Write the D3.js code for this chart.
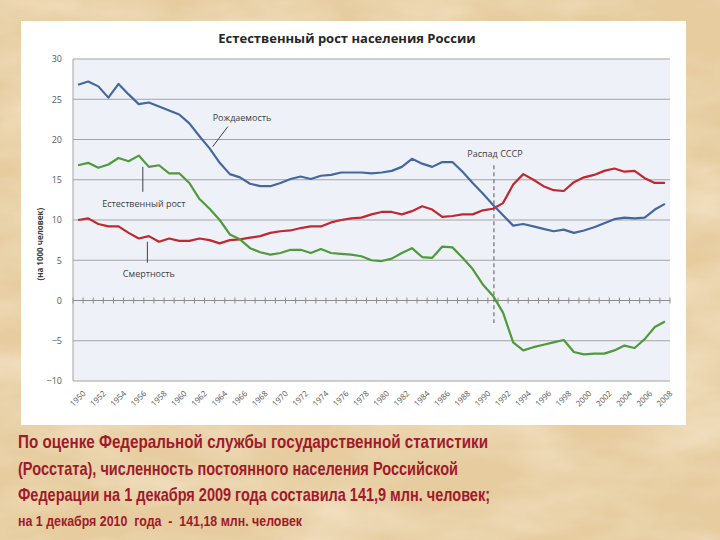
<!DOCTYPE html>
<html>
<head>
<meta charset="utf-8">
<script src="https://cdn.jsdelivr.net/npm/d3@7"></script>
<style>
  body { margin: 0; background: #e8cfa3; }
  svg { display: block; }
</style>
</head>
<body>
<div id="chart"></div>
<script>

// Size of the picture and of the plot area
const width = 720;
const height = 540;
const plot = {left: 73, right: 670, top: 59, bottom: 381};

// Data (per 1000 people)
const years = [1950,1951,1952,1953,1954,1955,1956,1957,1958,1959,
               1960,1961,1962,1963,1964,1965,1966,1967,1968,1969,
               1970,1971,1972,1973,1974,1975,1976,1977,1978,1979,
               1980,1981,1982,1983,1984,1985,1986,1987,1988,1989,
               1990,1991,1992,1993,1994,1995,1996,1997,1998,1999,
               2000,2001,2002,2003,2004,2005,2006,2007,2008];

// Рождаемость
const birth = [26.8,27.2,26.6,25.2,26.9,25.6,24.4,24.6,24.1,23.6,
               23.1,22.0,20.4,18.9,17.1,15.7,15.3,14.5,14.2,14.2,
               14.6,15.1,15.4,15.1,15.5,15.6,15.9,15.9,15.9,15.8,
               15.9,16.1,16.6,17.6,17.0,16.6,17.2,17.2,16.0,14.6,
               13.3,11.9,10.6,9.3,9.5,9.2,8.9,8.6,8.8,8.4,
               8.7,9.1,9.6,10.1,10.3,10.2,10.3,11.3,12.0];

// Смертность
const death = [10.0,10.2,9.5,9.2,9.2,8.4,7.7,8.0,7.3,7.7,
               7.4,7.4,7.7,7.5,7.1,7.5,7.6,7.8,8.0,8.4,
               8.6,8.7,9.0,9.2,9.2,9.7,10.0,10.2,10.3,10.7,
               11.0,11.0,10.7,11.1,11.7,11.3,10.4,10.5,10.7,10.7,
               11.2,11.4,12.1,14.4,15.7,15.0,14.2,13.7,13.6,14.7,
               15.3,15.6,16.1,16.4,16.0,16.1,15.2,14.6,14.6];

// Естественный рост
const growth = [16.8,17.1,16.5,16.9,17.7,17.3,18.0,16.6,16.8,15.8,
                15.8,14.6,12.6,11.4,10.0,8.2,7.6,6.5,6.0,5.7,
                5.9,6.3,6.3,5.9,6.4,5.9,5.8,5.7,5.5,5.0,
                4.9,5.2,5.9,6.5,5.4,5.3,6.7,6.6,5.3,3.9,
                2.0,0.6,-1.5,-5.2,-6.2,-5.8,-5.5,-5.2,-4.9,-6.4,
                -6.7,-6.6,-6.6,-6.2,-5.6,-5.9,-4.8,-3.3,-2.6];

const yTicks = [-10,-5,0,5,10,15,20,25,30];
const xTickLabels = [1950,1952,1954,1956,1958,1960,1962,1964,1966,1968,
                     1970,1972,1974,1976,1978,1980,1982,1984,1986,1988,
                     1990,1992,1994,1996,1998,2000,2002,2004,2006,2008];

const footLines = [
  "По оценке Федеральной службы государственной статистики",
  "(Росстата), численность постоянного населения Российской",
  "Федерации на 1 декабря 2009 года составила 141,9 млн. человек;"
];
const footLast = "на 1 декабря 2010  года  -  141,18 млн. человек";

const svg = d3.select("#chart")
  .append("svg")
  .attr("width", width)
  .attr("height", height)
  .attr("viewBox", [0, 0, width, height]);

// parchment background
const defs = svg.append("defs");
const paper = defs.append("filter").attr("id", "paper")
  .attr("x", 0).attr("y", 0).attr("width", "100%").attr("height", "100%");
paper.append("feTurbulence")
  .attr("type", "fractalNoise")
  .attr("baseFrequency", "0.008 0.02")
  .attr("numOctaves", 4)
  .attr("seed", 7);
paper.append("feColorMatrix")
  .attr("type", "matrix")
  .attr("values", "0 0 0 0 1  0 0 0 0 0.95  0 0 0 0 0.85  1.6 0 0 0 -0.6");

svg.append("rect").attr("width", width).attr("height", height).attr("fill", "#e6cc9f");
svg.append("rect").attr("width", width).attr("height", height)
  .attr("filter", "url(#paper)").attr("opacity", 0.55);

// white panel behind the chart
svg.append("rect")
  .attr("x", 21).attr("y", 21)
  .attr("width", 665).attr("height", 404)
  .attr("fill", "#ffffff");

// scales
const x = d3.scaleBand()
  .domain(years)
  .range([plot.left, plot.right])
  .padding(0);

const xPos = d3.scaleLinear()
  .domain([years[0], years[years.length - 1]])
  .range([x(years[0]) + x.bandwidth() / 2, x(years[years.length - 1]) + x.bandwidth() / 2]);

const y = d3.scaleLinear()
  .domain([-10, 30])
  .range([plot.bottom, plot.top]);

// plot background
svg.append("rect")
  .attr("x", plot.left).attr("y", plot.top)
  .attr("width", plot.right - plot.left)
  .attr("height", plot.bottom - plot.top)
  .attr("fill", "#eef2f8");

// gridlines
svg.append("g")
  .selectAll("line")
  .data(yTicks)
  .join("line")
    .attr("x1", plot.left).attr("x2", plot.right)
    .attr("y1", d => y(d)).attr("y2", d => y(d))
    .attr("stroke", d => d === 0 ? "#8c8c8c" : "#a3a3a3")
    .attr("stroke-width", 1);

// ticks on the zero line, at category boundaries
svg.append("g")
  .selectAll("line")
  .data(years.concat([null]))
  .join("line")
    .attr("x1", (d, i) => plot.left + i * x.step())
    .attr("x2", (d, i) => plot.left + i * x.step())
    .attr("y1", y(0) - 3).attr("y2", y(0) + 3)
    .attr("stroke", "#8c8c8c");

// left axis line
svg.append("line")
  .attr("x1", plot.left).attr("x2", plot.left)
  .attr("y1", plot.top).attr("y2", plot.bottom)
  .attr("stroke", "#a3a3a3");

// y axis labels
svg.append("g")
  .attr("transform", `translate(${plot.left - 8}, 0)`)
  .call(d3.axisLeft(y).tickValues(yTicks).tickSize(0).tickFormat(d3.format("d")))
  .call(g => g.select(".domain").remove())
  .call(g => g.selectAll("text")
    .attr("fill", "#595959")
    .attr("font-family", "'Open Sans', sans-serif")
    .attr("font-size", "9px"));

// x axis labels (rotated)
svg.append("g")
  .attr("transform", `translate(0, ${plot.bottom + 9})`)
  .call(d3.axisBottom(x).tickValues(xTickLabels).tickSize(0))
  .call(g => g.select(".domain").remove())
  .call(g => g.selectAll("text")
    .attr("fill", "#595959")
    .attr("font-family", "'Open Sans', sans-serif")
    .attr("font-size", "8px")
    .attr("text-anchor", "end")
    .attr("dy", "0.35em")
    .attr("transform", "translate(4,0) rotate(-45)"));

// y axis title
svg.append("text")
  .attr("transform", `translate(40, ${y(7)}) rotate(-90)`)
  .attr("text-anchor", "middle")
  .attr("dy", "0.35em")
  .attr("font-family", "'Open Sans', sans-serif")
  .attr("font-weight", "bold")
  .attr("font-size", "8px")
  .attr("fill", "#404040")
  .text("(на 1000 человек)");

// chart title
svg.append("text")
  .attr("x", 347).attr("y", 43)
  .attr("text-anchor", "middle")
  .attr("font-family", "'Open Sans', sans-serif")
  .attr("font-weight", "bold")
  .attr("font-size", "13px")
  .attr("fill", "#262626")
  .text("Естественный рост населения России");

// dashed line: Распад СССР
svg.append("line")
  .attr("x1", xPos(1991.1)).attr("x2", xPos(1991.1))
  .attr("y1", y(16.8)).attr("y2", y(-2.8))
  .attr("stroke", "#707070")
  .attr("stroke-width", 1.2)
  .attr("stroke-dasharray", "4,3");

// series lines
const line = d3.line()
  .x((d, i) => x(years[i]) + x.bandwidth() / 2)
  .y(d => y(d));

const series = [
  {values: death, color: "#c0282f"},
  {values: growth, color: "#4f9a3a"},
  {values: birth, color: "#44679f"}
];

svg.append("g")
  .selectAll("path")
  .data(series)
  .join("path")
    .attr("d", d => line(d.values))
    .attr("fill", "none")
    .attr("stroke", d => d.color)
    .attr("stroke-width", 2.2)
    .attr("stroke-linejoin", "round");

// annotations
const notes = [
  {text: "Рождаемость", tx: 1966.2, ty: 22.7, lx1: 1964.8, ly1: 21.6, lx2: 1963.3, ly2: 19.1},
  {text: "Естественный рост", tx: 1956.5, ty: 12.0, lx1: 1956.4, ly1: 16.6, lx2: 1956.4, ly2: 13.5},
  {text: "Смертность", tx: 1957.0, ty: 3.3, lx1: 1956.85, ly1: 7.3, lx2: 1956.85, ly2: 4.7},
  {text: "Распад СССР", tx: 1991.2, ty: 18.2}
];

const noteG = svg.append("g");
noteG.selectAll("text")
  .data(notes)
  .join("text")
    .attr("x", d => xPos(d.tx))
    .attr("y", d => y(d.ty))
    .attr("dy", "0.35em")
    .attr("text-anchor", "middle")
    .attr("font-family", "'Open Sans', sans-serif")
    .attr("font-size", "9px")
    .attr("fill", "#404040")
    .text(d => d.text);

noteG.selectAll("line")
  .data(notes.filter(d => d.lx1 !== undefined))
  .join("line")
    .attr("x1", d => xPos(d.lx1)).attr("y1", d => y(d.ly1))
    .attr("x2", d => xPos(d.lx2)).attr("y2", d => y(d.ly2))
    .attr("stroke", "#404040")
    .attr("stroke-width", 1);

// text under the chart
const foot = svg.append("g")
  .attr("font-family", "'Liberation Sans Narrow', 'Arial Narrow', 'Liberation Sans', sans-serif")
  .attr("font-weight", "bold")
  .attr("fill", "#a01a2a");

const footWidths = [470, 440, 472];
foot.selectAll("text.big")
  .data(footLines)
  .join("text")
    .attr("class", "big")
    .attr("x", 18)
    .attr("y", (d, i) => 448 + i * 26.6)
    .attr("font-size", "19px")
    .attr("textLength", (d, i) => footWidths[i])
    .attr("lengthAdjust", "spacingAndGlyphs")
    .text(d => d);

foot.append("text")
  .attr("x", 18)
  .attr("y", 526)
  .attr("font-size", "14.5px")
  .attr("textLength", 284)
  .attr("lengthAdjust", "spacingAndGlyphs")
  .style("white-space", "pre")
  .text(footLast);

</script>
</body>
</html>
